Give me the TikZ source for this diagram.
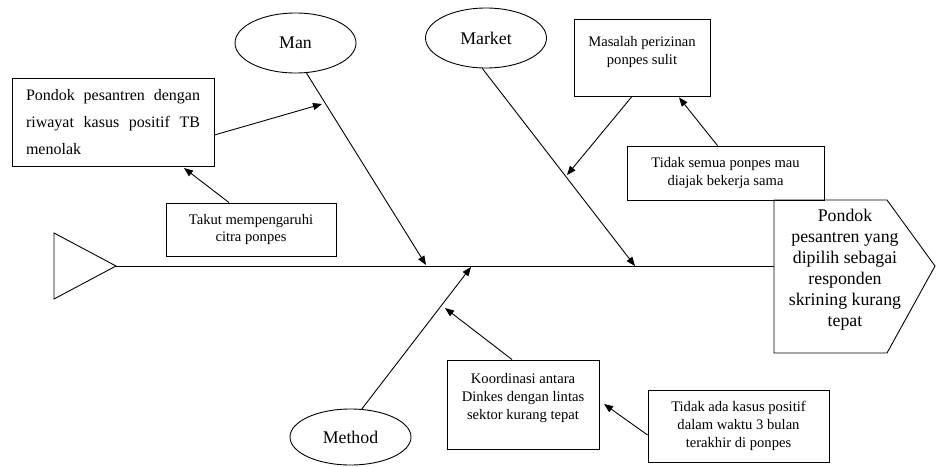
\documentclass[tikz,border=0pt]{standalone}
\usepackage{fontspec}
\setmainfont{Liberation Serif}
\usetikzlibrary{shapes.geometric}
\usetikzlibrary{arrows.meta}

\tikzset{
    spine/.style={line width=0.9pt},
    bone/.style={line width=0.9pt, -{Triangle[length=9pt, width=7pt]}},
    category/.style={draw, ellipse, line width=0.9pt, minimum width=121pt,
        minimum height=60pt, inner sep=0pt, font=\fontsize{17.8}{21}\selectfont},
    causebox/.style={draw, rectangle, line width=0.9pt, inner sep=0pt,
        align=center, font=\fontsize{14.6}{17.6}\selectfont},
    causetext/.style={inner sep=0pt, align=center, font=\fontsize{14.6}{17.6}\selectfont}
}
\newcommand{\fullline}[1]{\makebox[174pt][s]{#1}}

\begin{document}
\begin{tikzpicture}[x=1pt, y=-1pt]
    \def\tailshape{(54,233) -- (116,266) -- (54,299) -- cycle}
    \def\headshape{(774,200) -- (887,200) -- (935,266) -- (887,353) -- (774,353) -- cycle}

    \useasboundingbox (0,0) rectangle (936,466);

    % Draw the tail, the head and the spine
    \draw[spine] \tailshape;
    \draw[spine] \headshape;
    \coordinate (tail) at (116,266);
    \coordinate (headW) at (774,266);
    \node[align=center, inner sep=0pt, font=\fontsize{17.8}{21}\selectfont] (effect) at (845,269.5)
        {Pondok\\pesantren yang\\dipilih sebagai\\responden\\skrining kurang\\tepat};
    \draw[spine] (tail) -- (headW);

    % Categories and their bones
    \node[category] (man) at (295.5,43) {Man};
    \node[category] (market) at (486,38) {Market};
    \node[category, minimum height=56pt] (method) at (350.5,437) {Method};

    \coordinate (manEnd) at (426,265);
    \coordinate (marketEnd) at (635,266);
    \coordinate (methodEnd) at (471,267);
    \draw[bone] (man.290) -- (manEnd);
    \draw[bone] (market.263) -- (marketEnd);
    \draw[bone] (method.68) -- (methodEnd);

    % Causes on the Man bone
    \node[causebox, minimum width=202pt, minimum height=88pt, align=left,
        font=\fontsize{16}{27}\selectfont] (pondok) at (113,122)
        {\fullline{Pondok pesantren dengan}\\\fullline{riwayat kasus positif TB}\\menolak};
    \node[causebox, minimum width=170pt, minimum height=53pt] (takut) at (251,229.5)
        {Takut mempengaruhi\\citra ponpes};
    \coordinate (manA) at (322,104);
    \coordinate (pondokB) at (184,168);
    \draw[bone] ([yshift=-13pt]pondok.east) -- (manA);
    \draw[bone] ([xshift=-22pt]takut.north) -- (pondokB);

    % Causes on the Market bone
    \node[causebox, minimum width=136pt, minimum height=77pt] (izin) at (642,57.5) {};
    \node[causetext] (izinText) at (642,52) {Masalah perizinan\\ponpes sulit};
    \node[causebox, minimum width=197pt, minimum height=54pt] (semua) at (725.5,173)
        {Tidak semua ponpes mau\\diajak bekerja sama};
    \coordinate (marketA) at (567,175);
    \draw[bone] ([xshift=-10pt]izin.south) -- (marketA);
    \draw[bone] ([xshift=-8pt]semua.north) -- ([xshift=37pt, yshift=-1pt]izin.south);

    % Causes on the Method bone
    \node[causebox, minimum width=152pt, minimum height=89pt] (koor) at (523,404.5) {};
    \node[causetext] (koorText) at (523,398) {Koordinasi antara\\Dinkes dengan lintas\\sektor kurang tepat};
    \node[causebox, minimum width=181pt, minimum height=72pt] (tidak) at (738.5,426)
        {Tidak ada kasus positif\\dalam waktu 3 bulan\\terakhir di ponpes};
    \coordinate (methodA) at (445,308);
    \coordinate (koorB) at (604,404);
    \draw[bone] ([xshift=-11pt]koor.north) -- (methodA);
    \draw[bone] ([yshift=-9pt]tidak.west) -- (koorB);
\end{tikzpicture}
\end{document}
